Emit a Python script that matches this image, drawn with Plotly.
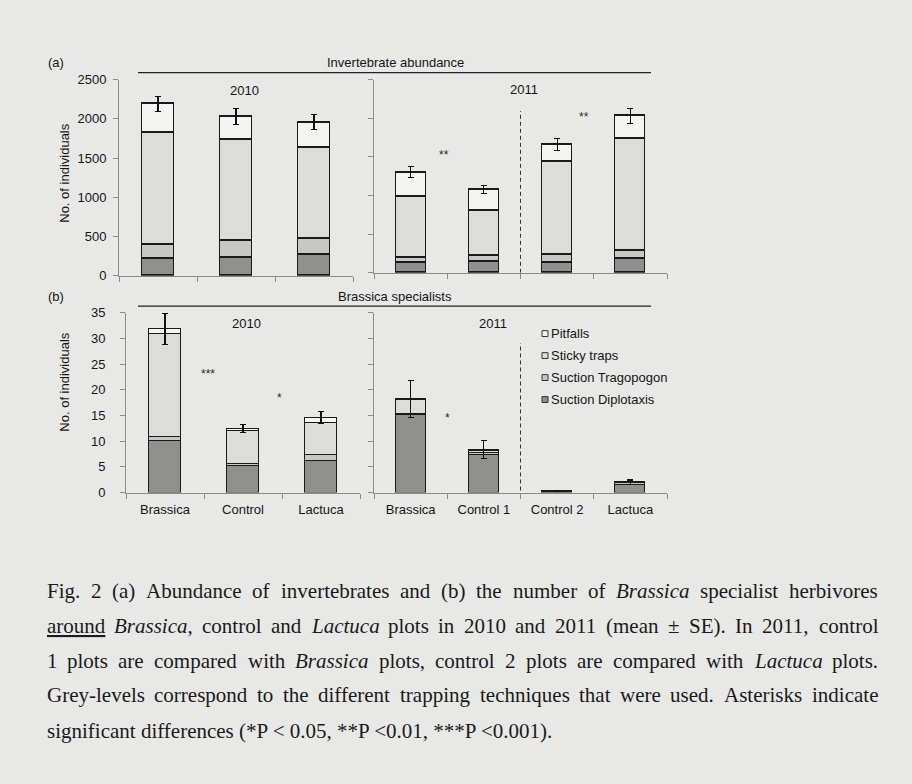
import numpy as np
import plotly.graph_objects as go

W, H = 912, 784


def px(x):
    return x / W


def py(y):
    return 1 - y / H


SANS = "Liberation Sans, Arial, sans-serif"
SERIF = "Liberation Serif, Times New Roman, serif"
BG = "#e8e8e6"
AXIS_GREY = "#8a8a8a"
INK = "#151515"

# Trapping techniques, bottom-to-top in each stack
series_names = ["Suction Diplotaxis", "Suction Tragopogon", "Sticky traps", "Pitfalls"]
series_colors = ["#8f8f8d", "#c7c7c5", "#dcdcda", "#f4f4f3"]

cats_2010 = ["Brassica", "Control", "Lactuca"]
cats_2011 = ["Brassica", "Control 1", "Control 2", "Lactuca"]

# (a) Invertebrate abundance, 2010
inv10_diplotaxis = [217, 237, 275]
inv10_tragopogon = [183, 209, 204]
inv10_sticky = [1425, 1287, 1158]
inv10_pitfalls = [367, 300, 321]
inv10_se = [98, 102, 96]

# (a) Invertebrate abundance, 2011
inv11_diplotaxis = [135, 140, 131, 178]
inv11_tragopogon = [68, 84, 106, 110]
inv11_sticky = [787, 580, 1201, 1455]
inv11_pitfalls = [313, 270, 224, 287]
inv11_se = [68, 50, 76, 95]

# (b) Brassica specialists, 2010
spec10_diplotaxis = [10.05, 5.22, 6.1]
spec10_tragopogon = [0.9, 0.38, 1.2]
spec10_sticky = [19.9, 6.5, 6.3]
spec10_pitfalls = [0.95, 0.3, 1.0]
spec10_se = [3.0, 0.8, 1.25]

# (b) Brassica specialists, 2011
spec11_diplotaxis = [15.2, 7.3, 0.25, 1.55]
spec11_tragopogon = [0.05, 0.5, 0.02, 0.4]
spec11_sticky = [2.85, 0.35, 0.03, 0.05]
spec11_pitfalls = [0.13, 0.25, 0.0, 0.04]
spec11_se = [3.65, 1.75, 0.1, 0.4]

# Significance marks: (category position, height, label)
inv11_sig_x = [0.95, 2.86]
inv11_sig_y = [1560, 2060]
inv11_sig_text = ["**", "**"]
spec10_sig_x = [1.05, 1.97]
spec10_sig_y = [23.6, 18.9]
spec10_sig_text = ["***", "*"]
spec11_sig_x = [1.01]
spec11_sig_y = [15.1]
spec11_sig_text = ["*"]

BAR_WIDTH = 0.41

panels = [
    dict(xa="x", ya="y", cats=cats_2010, labels=False,
         stacks=[inv10_diplotaxis, inv10_tragopogon, inv10_sticky, inv10_pitfalls],
         se=inv10_se, sig=None),
    dict(xa="x2", ya="y2", cats=cats_2011, labels=False,
         stacks=[inv11_diplotaxis, inv11_tragopogon, inv11_sticky, inv11_pitfalls],
         se=inv11_se, sig=(inv11_sig_x, inv11_sig_y, inv11_sig_text)),
    dict(xa="x3", ya="y3", cats=cats_2010, labels=True,
         stacks=[spec10_diplotaxis, spec10_tragopogon, spec10_sticky, spec10_pitfalls],
         se=spec10_se, sig=(spec10_sig_x, spec10_sig_y, spec10_sig_text)),
    dict(xa="x4", ya="y4", cats=cats_2011, labels=True,
         stacks=[spec11_diplotaxis, spec11_tragopogon, spec11_sticky, spec11_pitfalls],
         se=spec11_se, sig=(spec11_sig_x, spec11_sig_y, spec11_sig_text)),
]

fig = go.Figure()
annotations = []

for p in panels:
    n = len(p["cats"])
    centers = np.arange(n) + 0.5
    for k, (name, color, vals) in enumerate(zip(series_names, series_colors, p["stacks"])):
        top = k == len(series_names) - 1
        fig.add_trace(go.Bar(
            x=centers, y=vals, width=BAR_WIDTH, name=name,
            marker=dict(color=color, line=dict(color="#1a1a1a", width=1.2)),
            error_y=dict(type="data", array=p["se"], visible=top,
                         color="#111111", thickness=1.1, width=3),
            xaxis=p["xa"], yaxis=p["ya"], showlegend=False, hoverinfo="skip",
        ))
    if p["sig"] is not None:
        for sx, sy, st in zip(*p["sig"]):
            annotations.append(dict(
                x=sx, y=sy, xref=p["xa"], yref=p["ya"], text=st, showarrow=False,
                font=dict(family=SANS, size=12, color="#2a2a2a"),
                xanchor="center", yanchor="middle", yshift=-3))

axis_common = dict(
    showgrid=False, zeroline=False, showline=True, linecolor=AXIS_GREY,
    linewidth=1, tickcolor=AXIS_GREY, ticklen=5, tickwidth=1,
    tickfont=dict(family=SANS, size=13, color=INK), fixedrange=True,
)


def x_axis(domain, cats, labels, anchor):
    n = len(cats)
    return dict(
        axis_common, domain=domain, range=[0, n], anchor=anchor,
        tickmode="array", tickvals=list(np.arange(n) + 0.5),
        ticktext=cats if labels else [""] * n, ticks="",
        showticklabels=labels, ticklabelstandoff=5,
        minor=dict(tickmode="linear", tick0=0, dtick=1, ticks="outside",
                   ticklen=5, tickwidth=1, tickcolor=AXIS_GREY),
    )


def y_axis(domain, rng, dtick, labels, anchor, standoff):
    return dict(
        axis_common, domain=domain, range=rng, anchor=anchor,
        tickmode="linear", tick0=0, dtick=dtick, ticks="outside",
        showticklabels=labels, ticklabelstandoff=standoff,
    )


fig.update_layout(
    xaxis=x_axis([px(119), px(353)], cats_2010, False, "y"),
    yaxis=y_axis([py(274), py(74)], [0, 2500], 500, True, "x", 4),
    xaxis2=x_axis([px(374), px(667)], cats_2011, False, "y2"),
    yaxis2=y_axis([py(271), py(74)], [0, 2500], 500, False, "x2", 4),
    xaxis3=x_axis([px(126), px(360)], cats_2010, True, "y3"),
    yaxis3=y_axis([py(495), py(311.7)], [0, 35], 5, True, "x3", 12),
    xaxis4=x_axis([px(374), px(667)], cats_2011, True, "y4"),
    yaxis4=y_axis([py(495), py(311.7)], [0, 35], 5, False, "x4", 4),
)

# Dashed separators between the two 2011 comparisons
shapes = [
    dict(type="line", xref="x2", yref="y2", x0=2, x1=2, y0=0, y1=2094,
         line=dict(color="#333333", width=1, dash="4px,3px")),
    dict(type="line", xref="x4", yref="y4", x0=2, x1=2, y0=0.4, y1=29.1,
         line=dict(color="#333333", width=1, dash="4px,3px")),
]

# Panel headers with rules underneath
for label, title, ty, ly in [("(a)", "Invertebrate abundance", 57, 67),
                             ("(b)", "Brassica specialists", 295, 305)]:
    shapes.append(dict(type="line", xref="paper", yref="paper",
                       x0=px(138), x1=px(651), y0=py(ly), y1=py(ly),
                       line=dict(color="#222222", width=1.2)))
    annotations.append(dict(x=px(395), y=py(ty), xref="paper", yref="paper",
                            text=title, showarrow=False, xanchor="center",
                            yanchor="middle", font=dict(family=SANS, size=13, color=INK)))
    annotations.append(dict(x=px(46), y=py(ty), xref="paper", yref="paper",
                            text=label, showarrow=False, xanchor="left",
                            yanchor="middle", font=dict(family=SANS, size=13, color=INK)))

# Year labels inside each panel
for text, x, y in [("2010", 245, 85), ("2011", 524, 84), ("2010", 247, 323), ("2011", 493, 323)]:
    annotations.append(dict(x=px(x), y=py(y), xref="paper", yref="paper", text=text,
                            showarrow=False, xanchor="center", yanchor="middle",
                            font=dict(family=SANS, size=13, color=INK)))

# Y axis titles
for y in [170, 383]:
    annotations.append(dict(x=px(65), y=py(y), xref="paper", yref="paper",
                            text="No. of individuals", textangle=-90, showarrow=False,
                            xanchor="center", yanchor="middle",
                            font=dict(family=SANS, size=13, color=INK)))

# Legend for the trapping techniques (top entry first)
legend_top, legend_step = 333, 22.4
for i, (name, color) in enumerate(zip(series_names[::-1], series_colors[::-1])):
    cy = legend_top + i * legend_step
    shapes.append(dict(type="rect", xref="paper", yref="paper",
                       x0=px(542), x1=px(548), y0=py(cy + 3), y1=py(cy - 3),
                       fillcolor=color, line=dict(color="#333333", width=1)))
    annotations.append(dict(x=px(549), y=py(cy), xref="paper", yref="paper",
                            text=name, showarrow=False, xanchor="left", yanchor="middle",
                            font=dict(family=SANS, size=13, color=INK)))

# Figure caption, typeset justified
TIMES = {" ": 250, "(": 333, ")": 333, "*": 500, ",": 250, "-": 333, ".": 250,
         "<": 564, "±": 564,
         "A": 722, "B": 667, "E": 611, "F": 556, "G": 722, "I": 333, "L": 611,
         "P": 556, "S": 556,
         "a": 444, "b": 500, "c": 444, "d": 500, "e": 444, "f": 333, "g": 500,
         "h": 500, "i": 278, "j": 278, "k": 500, "l": 278, "m": 778, "n": 500,
         "o": 500, "p": 500, "q": 500, "r": 333, "s": 389, "t": 278, "u": 500,
         "v": 500, "w": 722, "x": 500, "y": 500, "z": 444}
for d in "0123456789":
    TIMES[d] = 500
TIMES_ITALIC = {"B": 611, "L": 556, "a": 500, "c": 444, "i": 278, "r": 389,
                "s": 389, "t": 278, "u": 500}

CAP_SIZE = 21
CAP_LEFT, CAP_RIGHT = 44.5, 876
CAP_MID_OFFSET = 0.3375 * CAP_SIZE  # baseline to centre of the text box


def word_width(word, size):
    w, italic, i = 0, False, 0
    while i < len(word):
        for tag, state in (("<i>", True), ("</i>", False), ("<u>", None), ("</u>", None)):
            if word.startswith(tag, i):
                if state is not None:
                    italic = state
                i += len(tag)
                break
        else:
            ch = word[i]
            table = TIMES_ITALIC if italic and ch in TIMES_ITALIC else TIMES
            w += table.get(ch, 500)
            i += 1
    return w / 1000 * size


caption_lines = [
    "Fig. 2 (a) Abundance of invertebrates and (b) the number of <i>Brassica</i> specialist herbivores",
    "<u>around</u> <i>Brassica</i>, control and <i>Lactuca</i> plots in 2010 and 2011 (mean ± SE). In 2011, control",
    "1 plots are compared with <i>Brassica</i> plots, control 2 plots are compared with <i>Lactuca</i> plots.",
    "Grey-levels correspond to the different trapping techniques that were used. Asterisks indicate",
    "significant differences (*P < 0.05, **P <0.01, ***P <0.001).",
]
caption_baselines = [602, 637.7, 673.4, 709, 744.7]

for li, (line, base) in enumerate(zip(caption_lines, caption_baselines)):
    cy = base - CAP_MID_OFFSET
    last = li == len(caption_lines) - 1
    if last:
        annotations.append(dict(x=px(CAP_LEFT), y=py(cy), xref="paper", yref="paper",
                                text=line, showarrow=False, xanchor="left", yanchor="middle",
                                font=dict(family=SERIF, size=CAP_SIZE, color="#1a1a1a")))
        continue
    words = line.split(" ")
    widths = [word_width(w, CAP_SIZE) for w in words]
    gap = (CAP_RIGHT - CAP_LEFT - sum(widths)) / (len(words) - 1)
    x = CAP_LEFT
    for w, ww in zip(words, widths):
        annotations.append(dict(x=px(x), y=py(cy), xref="paper", yref="paper",
                                text=w, showarrow=False, xanchor="left", yanchor="middle",
                                font=dict(family=SERIF, size=CAP_SIZE, color="#1a1a1a")))
        x += ww + gap

fig.update_layout(
    width=W, height=H, autosize=False,
    margin=dict(l=0, r=0, t=0, b=0, pad=0),
    paper_bgcolor=BG, plot_bgcolor="rgba(0,0,0,0)",
    barmode="stack", bargap=0, showlegend=False,
    font=dict(family=SANS, size=13, color=INK),
    shapes=shapes, annotations=annotations,
)

fig.write_html("out.html", post_script="document.body.style.margin = '0';")
